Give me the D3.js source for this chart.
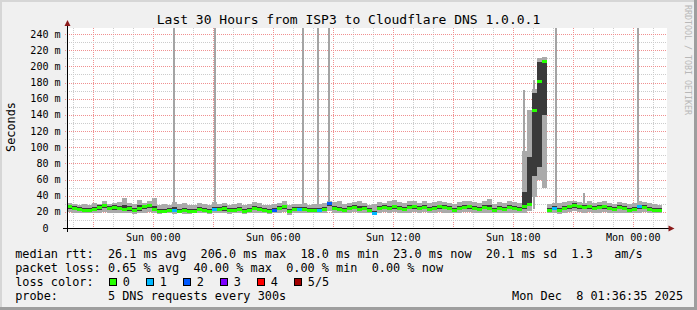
<!DOCTYPE html>
<html>
<head>
<meta charset="utf-8">
<script src="https://cdn.jsdelivr.net/npm/d3@7"></script>
<style>
  html, body { margin: 0; padding: 0; background: #f0f0f0; }
  svg { display: block; }
  text { font-family: "DejaVu Sans Mono", monospace; white-space: pre; }
</style>
</head>
<body>
<div id="chart"></div>
<script>
// data: 15 minute buckets starting Sat 6 Dec 2025 19:41 (UTC used for labels), values in ms
const startTime = Date.UTC(2025, 11, 6, 19, 41);
const stepMinutes = 15;

const medianMs = [
  26, 24, 23, 22, 22, 23, 25, 28, 24, 25,
  24, 23, 24, 22, 24, 26, 28, 23, 21, 21,
  22, 22, 21, 22, 20, 21, 23, 22, 21, 23,
  23, 24, 22, 22, 23, 21, 22, 24, 23, 22,
  21, 22, 24, 26, 20, 23, 23, 23, 22, 22,
  22, 23, 30, 24, 23, 22, 24, 25, 23, 24,
  22, 18, 24, 25, 24, 26, 24, 23, 25, 26,
  24, 25, 23, 24, 26, 25, 24, 22, 24, 25,
  26, 24, 23, 25, 24, 22, 24, 23, 25, 24,
  23, 26, 29, 145, 181, 206, 22, 24, 22, 24,
  26, 28, 26, 25, 26, 24, 25, 26, 24, 23,
  25, 24, 22, 23, 27, 25, 23, 22, 22
];
const minMs = [
  20, 19, 18, 18, 19, 18, 19, 20, 19, 18,
  19, 18, 19, 17, 18, 19, 20, 18, 17, 18,
  18, 17, 18, 17, 17, 18, 18, 19, 17, 18,
  19, 18, 17, 18, 19, 17, 18, 18, 19, 18,
  17, 18, 19, 20, 16, 18, 19, 19, 18, 18,
  18, 19, 21, 19, 18, 18, 19, 20, 18, 19,
  18, 16, 19, 20, 19, 20, 19, 18, 19, 20,
  19, 20, 18, 19, 20, 19, 18, 18, 19, 20,
  20, 19, 18, 19, 19, 18, 19, 18, 19, 19,
  18, 19, 21, 38, 60, 50, 18, 18, 17, 19,
  20, 21, 20, 19, 20, 19, 19, 20, 19, 18,
  19, 19, 18, 18, 19, 20, 18, 18, 18
];
const lowMs = [
  24, 22, 21, 20, 20, 21, 22, 25, 22, 22,
  22, 21, 21, 20, 21, 23, 25, 21, 19, 19,
  20, 20, 19, 20, 19, 19, 21, 20, 19, 21,
  21, 21, 20, 20, 21, 19, 20, 22, 21, 20,
  19, 20, 22, 23, 18, 21, 21, 21, 20, 20,
  20, 21, 27, 22, 21, 20, 22, 23, 21, 22,
  20, 17, 22, 23, 22, 23, 22, 21, 23, 23,
  22, 23, 21, 22, 23, 23, 22, 20, 22, 23,
  23, 22, 21, 23, 22, 20, 22, 21, 23, 22,
  21, 23, 27, 64, 75, 140, 20, 22, 20, 22,
  23, 25, 24, 23, 23, 22, 23, 23, 22, 21,
  23, 22, 20, 21, 24, 23, 21, 20, 20
];
const highMs = [
  28, 27, 26, 25, 25, 26, 28, 30, 27, 28,
  27, 28, 27, 25, 28, 29, 30, 27, 24, 24,
  25, 26, 24, 25, 23, 24, 26, 25, 24, 26,
  26, 27, 25, 25, 26, 24, 25, 27, 26, 25,
  24, 25, 27, 29, 23, 26, 26, 26, 25, 25,
  25, 26, 32, 27, 26, 25, 27, 28, 27, 27,
  25, 21, 27, 28, 27, 29, 27, 26, 28, 29,
  27, 28, 26, 27, 29, 28, 27, 25, 27, 29,
  29, 27, 26, 28, 28, 25, 27, 26, 28, 27,
  26, 45, 88, 167, 206, 208, 25, 27, 25, 27,
  29, 31, 29, 28, 29, 27, 28, 29, 27, 26,
  28, 27, 25, 26, 29, 28, 26, 25, 25
];
const maxMs = [
  31, 30, 29, 30, 28, 31, 30, 33, 30, 31,
  32, 37, 31, 30, 35, 31, 33, 37, 29, 30,
  29, 32, 30, 31, 28, 29, 31, 30, 29, 32,
  30, 31, 29, 30, 31, 29, 30, 32, 31, 29,
  28, 30, 31, 33, 29, 30, 30, 31, 29, 30,
  30, 31, 34, 32, 33, 30, 31, 32, 34, 31,
  29, 30, 32, 31, 33, 35, 32, 31, 33, 34,
  31, 34, 31, 32, 33, 32, 31, 30, 32, 34,
  33, 32, 31, 33, 36, 30, 32, 31, 33, 32,
  31, 95, 146, 172, 210, 212, 30, 31, 31, 32,
  33, 34, 32, 31, 33, 31, 32, 33, 31, 30,
  32, 31, 30, 31, 33, 32, 31, 30, 29
];
// [bucket index, lost pings out of 5]
const lossEvents = [[21, 1], [29, 1], [41, 2], [46, 1], [50, 1], [52, 2], [61, 1], [97, 1], [114, 1]];
// single outlier pings: [UTC time, rtt ms]
const outlierTimes = ["2025-12-07T00:59", "2025-12-07T03:02", "2025-12-07T07:26", "2025-12-07T08:11",
  "2025-12-07T08:44", "2025-12-07T18:29", "2025-12-07T18:59", "2025-12-07T20:05",
  "2025-12-07T21:29", "2025-12-08T00:11"];
const outlierMs = [400, 400, 400, 400, 400, 171, 183, 400, 43, 400];

const yTicksMs = [0, 20, 40, 60, 80, 100, 120, 140, 160, 180, 200, 220, 240];
const lossLabels = ["0", "1", "2", "3", "4", "5/5"];
const lossColors = ["#26ff00", "#00b8ff", "#0059ff", "#7e00ff", "#ff0000", "#a10000"];

const legendRows = [
  "median rtt:  26.1 ms avg  206.0 ms max  18.0 ms min  23.0 ms now  20.1 ms sd  1.3   am/s",
  "packet loss: 0.65 % avg  40.00 % max  0.00 % min  0.00 % now",
  "loss color:",
  "probe:       5 DNS requests every 300s"
];
const stampText = "Mon Dec  8 01:36:35 2025";
const titleText = "Last 30 Hours from ISP3 to Cloudflare DNS 1.0.0.1";

// layout
const W = 697, H = 310;
const plot = { left: 67, right: 667, top: 28, bottom: 228 };

const svg = d3.select("#chart").append("svg")
  .attr("width", W).attr("height", H);

// frame like rrdtool
svg.append("rect").attr("width", W).attr("height", H).attr("fill", "#f0f0f0");
svg.append("rect").attr("width", W).attr("height", 2).attr("fill", "#d6d6d6");
svg.append("rect").attr("width", 2).attr("height", H).attr("fill", "#d6d6d6");
svg.append("rect").attr("x", W - 3).attr("width", 3).attr("height", H).attr("fill", "#9e9e9e");
svg.append("rect").attr("y", H - 3).attr("width", W).attr("height", 3).attr("fill", "#9e9e9e");

const t0 = new Date(startTime);
const t1 = new Date(startTime + 30 * 3600e3);
const x = d3.scaleUtc().domain([t0, t1]).range([plot.left, plot.right]);
const y = d3.scaleLinear().domain([0, 247.5]).range([plot.bottom, plot.top]);

svg.append("rect")
  .attr("x", plot.left).attr("y", plot.top)
  .attr("width", plot.right - plot.left).attr("height", plot.bottom - plot.top)
  .attr("fill", "#ffffff");

// grid
const grid = svg.append("g").attr("shape-rendering", "crispEdges");
const hours = d3.utcHour.range(t0, t1);
grid.selectAll("line.v").data(hours).enter().append("line")
  .attr("x1", d => Math.round(x(d)) + 0.5).attr("x2", d => Math.round(x(d)) + 0.5)
  .attr("y1", plot.top).attr("y2", plot.bottom + 2)
  .attr("stroke", d => d.getUTCHours() % 3 === 0 ? "#f09090" : "#cccccc")
  .attr("stroke-dasharray", "1,1");

const hLines = d3.range(10, 250, 10);
grid.selectAll("line.h").data(hLines).enter().append("line")
  .attr("x1", plot.left - 2).attr("x2", plot.right)
  .attr("y1", d => Math.round(y(d)) + 0.5).attr("y2", d => Math.round(y(d)) + 0.5)
  .attr("stroke", d => d % 20 === 0 ? "#f09090" : "#cccccc")
  .attr("stroke-dasharray", "1,1");

// data marks
const buckets = medianMs.map((m, i) => ({
  t: new Date(startTime + i * stepMinutes * 60e3),
  t2: new Date(startTime + (i + 1) * stepMinutes * 60e3),
  med: m, lo: lowMs[i], hi: highMs[i], min: minMs[i], max: maxMs[i], loss: 0
}));
lossEvents.forEach(([i, l]) => { buckets[i].loss = l; });

svg.append("clipPath").attr("id", "plotclip").append("rect")
  .attr("x", plot.left).attr("y", plot.top)
  .attr("width", plot.right - plot.left).attr("height", plot.bottom - plot.top);

const marks = svg.append("g").attr("clip-path", "url(#plotclip)").attr("shape-rendering", "crispEdges");

const outliers = outlierTimes.map((s, i) => ({ t: new Date(s + ":00Z"), v: outlierMs[i] }));
marks.selectAll("rect.spike").data(outliers).enter().append("rect")
  .attr("x", d => x(d.t))
  .attr("width", d => x(new Date(+d.t + 5 * 60e3)) - x(d.t))
  .attr("y", d => y(d.v))
  .attr("height", d => y(24) - y(d.v))
  .attr("fill", "#a4a4a4");

marks.selectAll("rect.outer").data(buckets).enter().append("rect")
  .attr("x", d => x(d.t)).attr("width", d => x(d.t2) - x(d.t))
  .attr("y", d => y(d.max)).attr("height", d => y(d.min) - y(d.max))
  .attr("fill", "#aaaaaa");

marks.selectAll("rect.inner").data(buckets).enter().append("rect")
  .attr("x", d => x(d.t)).attr("width", d => x(d.t2) - x(d.t))
  .attr("y", d => y(d.hi)).attr("height", d => y(d.lo) - y(d.hi))
  .attr("fill", "#3a3a3a");

marks.selectAll("rect.med").data(buckets).enter().append("rect")
  .attr("x", d => x(d.t)).attr("width", d => x(d.t2) - x(d.t))
  .attr("y", d => y(d.med) - 1.5).attr("height", 3)
  .attr("fill", d => lossColors[d.loss]);

// axes
const axes = svg.append("g").attr("shape-rendering", "crispEdges");
axes.append("line")
  .attr("x1", plot.left - 4).attr("x2", plot.right + 2)
  .attr("y1", plot.bottom + 0.5).attr("y2", plot.bottom + 0.5)
  .attr("stroke", "#000");
axes.append("line")
  .attr("x1", plot.left + 0.5).attr("x2", plot.left + 0.5)
  .attr("y1", plot.bottom + 4).attr("y2", plot.top - 3)
  .attr("stroke", "#000");
svg.append("path")
  .attr("d", `M${plot.right + 1.5},${plot.bottom - 2.5}L${plot.right + 7.5},${plot.bottom + 0.5}L${plot.right + 1.5},${plot.bottom + 3.5}Z`)
  .attr("fill", "#8b1a1a");
svg.append("path")
  .attr("d", `M${plot.left - 2.5},${plot.top - 2}L${plot.left + 0.5},${plot.top - 8}L${plot.left + 3.5},${plot.top - 2}Z`)
  .attr("fill", "#8b1a1a");

// y labels
const yl = svg.append("g").attr("font-size", "10.1px").attr("fill", "#000");
yl.selectAll("text.num").data(yTicksMs).enter().append("text")
  .attr("x", 48.6).attr("y", d => y(d) + 3.6)
  .attr("text-anchor", "end").text(d => d);
yl.selectAll("text.unit").data(yTicksMs.filter(d => d > 0)).enter().append("text")
  .attr("x", 54.6).attr("y", d => y(d) + 3.6).text("m");

// x labels
const fmt = d3.utcFormat("%a %H:%M");
svg.append("g").attr("font-size", "10.1px")
  .selectAll("text").data(hours.filter(d => d.getUTCHours() % 6 === 0)).enter().append("text")
  .attr("x", d => x(d)).attr("y", 241)
  .attr("text-anchor", "middle").text(d => fmt(d));

// title, axis title, watermark
svg.append("text").attr("x", 348.5).attr("y", 23.5).attr("font-size", "13px")
  .attr("text-anchor", "middle").text(titleText);
svg.append("text").attr("transform", "translate(14.5,127) rotate(-90)")
  .attr("font-size", "11.85px").attr("text-anchor", "middle").text("Seconds");
svg.append("text").attr("transform", "translate(684.5,60) rotate(90)")
  .attr("font-size", "8.3px").attr("fill", "#b8b8b8").attr("text-anchor", "middle")
  .text("RRDTOOL / TOBI OETIKER");

// legend
const lg = svg.append("g").attr("font-size", "11.85px");
lg.selectAll("text.row").data(legendRows).enter().append("text")
  .attr("x", 15.2).attr("y", (d, i) => 258 + i * 14).text(d => d);
lg.append("text").attr("x", 512).attr("y", 300).text(stampText);

const swatchX = d3.scaleLinear().domain([0, lossLabels.length - 1]).range([108.5, 293.5]);
const sw = lg.selectAll("g.sw").data(lossLabels).enter().append("g");
sw.append("rect")
  .attr("x", (d, i) => Math.round(swatchX(i)) + 0.5).attr("y", 278.5)
  .attr("width", 7).attr("height", 7)
  .attr("fill", (d, i) => lossColors[i]).attr("stroke", "#000")
  .attr("shape-rendering", "crispEdges");
sw.append("text")
  .attr("x", (d, i) => swatchX(i) + 14.3).attr("y", 286).text(d => d);
</script>
</body>
</html>
